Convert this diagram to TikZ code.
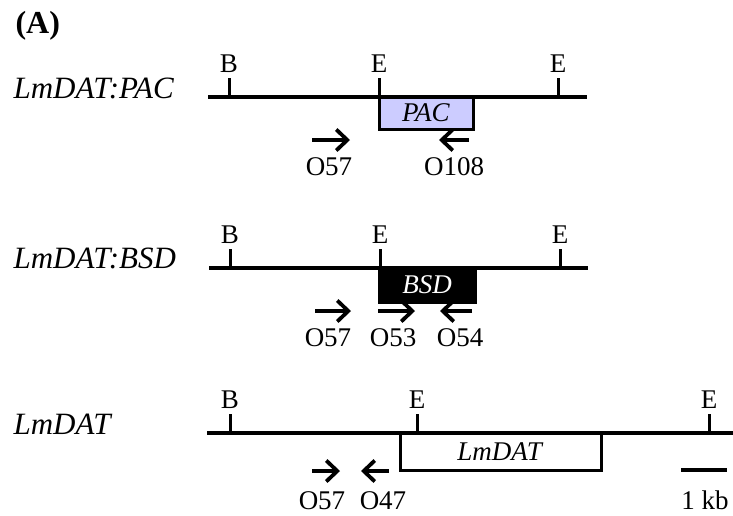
\documentclass[tikz,border=0pt]{standalone}
\usepackage{fontspec}
\setmainfont{Liberation Serif}
\usetikzlibrary{arrows.meta}
\definecolor{paclilac}{RGB}{204,204,255}

\begin{document}
\begin{tikzpicture}[x=1pt, y=-1pt, font=\fontsize{27}{30}\selectfont,
    dna/.style={line width=3.5pt},
    cutsite/.style={line width=3pt},
    primer/.style={line width=3.8pt, -{Straight Barb[length=11pt,width=21pt]}},
    genename/.style={anchor=base west, font=\fontsize{31}{34}\selectfont\itshape},
    cassette/.style={draw, line width=3pt, inner sep=0pt}]
    \useasboundingbox (0,0) rectangle (733,515);

    % 1. Tieu de
    \node[anchor=base west, font=\fontsize{32}{36}\selectfont\bfseries] (title) at (12,33) {(A)};

    % 2. LmDAT:PAC
    \node[genename] (name1) at (10,98) {LmDAT:PAC};
    \draw[dna] (208,97) -- (587,97);
    \foreach \x/\s in {229/B,379/E,558/E} {
        \draw[cutsite] (\x,97) -- (\x,78);
        \node[anchor=base] (site1-\x) at (\x,72) {\s};
    }
    \node[cassette, fill=paclilac, minimum width=94pt, minimum height=32pt] (pac) at (426,113) {\textit{PAC}};
    \foreach \a/\b/\lx/\t in {312/350/329/O57, 469/439/454/O108} {
        \draw[primer] (\a,140) -- (\b,140);
        \node[anchor=base] (p1-\t) at (\lx,175) {\t};
    }

    % 3. LmDAT:BSD
    \node[genename] (name2) at (10,268) {LmDAT:BSD};
    \draw[dna] (209,268) -- (588,268);
    \foreach \x/\s in {230/B,380/E,560/E} {
        \draw[cutsite] (\x,268) -- (\x,249);
        \node[anchor=base] (site2-\x) at (\x,243) {\s};
    }
    \node[cassette, fill=black, text=white, minimum width=96pt, minimum height=34pt] (bsd) at (427,285) {\textit{BSD}};
    \foreach \a/\b/\lx/\t in {315/351/328/O57, 378/415/393/O53, 472/440/460/O54} {
        \draw[primer] (\a,311) -- (\b,311);
        \node[anchor=base] (p2-\t) at (\lx,346) {\t};
    }

    % 4. LmDAT
    \node[genename] (name3) at (10,434) {LmDAT};
    \draw[dna] (207,433) -- (733,433);
    \foreach \x/\s in {230/B,417/E,709/E} {
        \draw[cutsite] (\x,433) -- (\x,414);
        \node[anchor=base] (site3-\x) at (\x,408) {\s};
    }
    \node[cassette, fill=white, minimum width=201pt, minimum height=37pt] (dat) at (500.5,452) {\textit{LmDAT}};
    \foreach \a/\b/\lx/\t in {312/340/322/O57, 389/361/383/O47} {
        \draw[primer] (\a,471) -- (\b,471);
        \node[anchor=base] (p3-\t) at (\lx,509) {\t};
    }

    % 5. Thang do
    \draw[line width=4.5pt] (681,470) -- (727,470);
    \node[anchor=base] (kb) at (705,509) {1 kb};
\end{tikzpicture}
\end{document}
